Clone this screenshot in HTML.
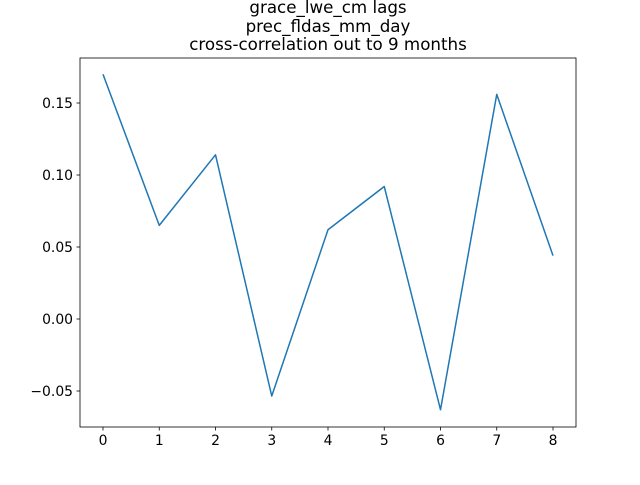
<!DOCTYPE html>
<html><head><meta charset="utf-8"><style>
body{margin:0;background:#fff}
svg text{font-family:"DejaVu Sans","Liberation Sans",sans-serif;fill:#000}
</style></head><body>
<svg id="chart" width="640" height="480">
<rect width="640" height="480" fill="#fff"/>
<g id="title" font-size="16.7" text-anchor="middle">
<text x="328" y="13">grace_lwe_cm lags</text>
<text x="328" y="32">prec_fldas_mm_day</text>
<text x="328" y="50">cross-correlation out to 9 months</text>
</g>
<g id="axes"></g>
<g id="ticks"></g>
<path id="line" fill="none" stroke="#1f77b4" stroke-width="1.5" stroke-linejoin="round"/>
</svg>
<script>
const lags=[0,1,2,3,4,5,6,7,8];
const correlations=[0.170,0.065,0.114,-0.0535,0.062,0.092,-0.063,0.156,0.044];
const yTicks=[-0.05,0.00,0.05,0.10,0.15];
const yTickLabels=["−0.05","0.00","0.05","0.10","0.15"];
const xTicks=[0,1,2,3,4,5,6,7,8];
const L=80,R=576,T=58,B=427;
const xs=v=>103+v*56.25;
const ys=v=>319-v*1440;
const ns="http://www.w3.org/2000/svg";
const ticks=document.getElementById('ticks');
function mk(tag,attrs,parent){const e=document.createElementNS(ns,tag);for(const k in attrs)e.setAttribute(k,attrs[k]);parent.appendChild(e);return e;}
yTicks.forEach((v,i)=>{
  const y=ys(v);
  const t=mk('line',{x1:L-3.5,x2:L,y1:y,y2:y,stroke:'#000','stroke-width':0.8},ticks);
  
  
  const tx=mk('text',{x:L-7,y:y+5,'font-size':13.9,'text-anchor':'end'},ticks);
  tx.textContent=yTickLabels[i];
  
  
});
xTicks.forEach(v=>{
  const x=xs(v);
  const t=mk('line',{x1:x,x2:x,y1:B,y2:B+3.5,stroke:'#000','stroke-width':0.8},ticks);
  
  
  const tx=mk('text',{x:x,y:B+18,'font-size':13.9,'text-anchor':'middle'},ticks);
  tx.textContent=String(v);
  
  
});
const frame=mk('rect',{x:L,y:T,width:R-L,height:B-T,fill:'none',stroke:'#000','stroke-width':0.8},document.getElementById('axes'));


document.getElementById('line').setAttribute('d',lags.map((l,i)=>(i?'L':'M')+xs(l)+','+ys(correlations[i])).join(' '));
</script>
</body></html>
